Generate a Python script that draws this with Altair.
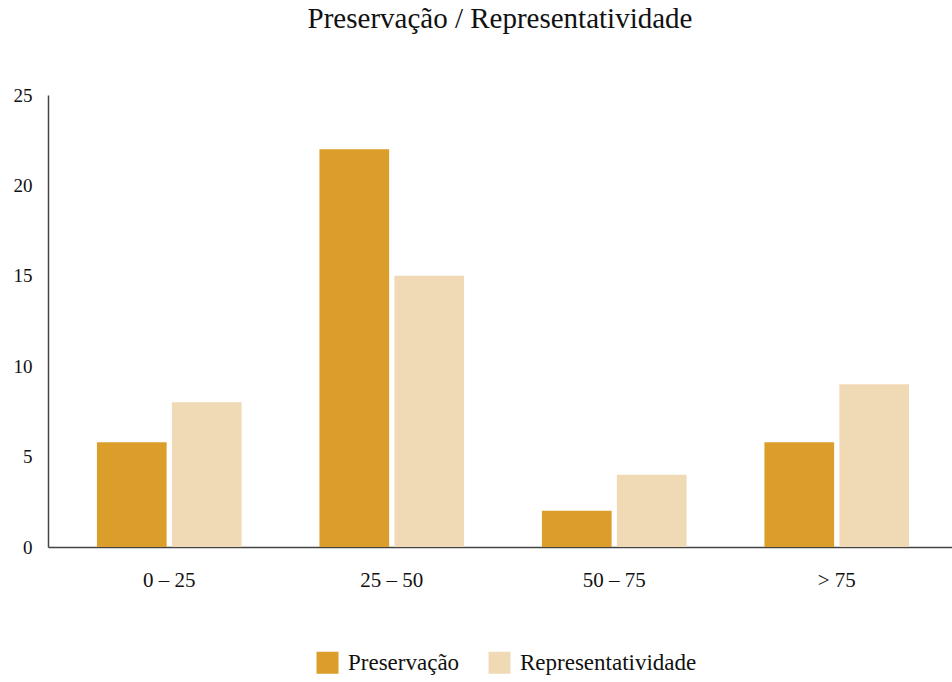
import altair as alt
import pandas as pd

categories = ["0 – 25", "25 – 50", "50 – 75", "> 75"]
series = ["Preservação", "Representatividade"]
preservacao = [5.8, 22, 2, 5.8]
representatividade = [8, 15, 4, 9]
colors = ["#DB9E2A", "#F0DAB5"]

rows = []
for c, p, r in zip(categories, preservacao, representatividade):
    rows.append({"faixa": c, "serie": series[0], "valor": p})
    rows.append({"faixa": c, "serie": series[1], "valor": r})
df = pd.DataFrame(rows)

FONT = "Liberation Serif"

chart = alt.Chart(df).mark_bar().encode(
    x=alt.X("faixa:N", sort=categories, title=None,
            scale=alt.Scale(paddingInner=0.35, paddingOuter=0.22, range=[0, 910]),
            axis=alt.Axis(labelAngle=0, labelFontSize=21, labelPadding=22,
                          ticks=False, domainColor="#444", domainWidth=1.5,
                          labelColor="#111", labelFont=FONT)),
    xOffset=alt.XOffset("serie:N", sort=series,
                        scale=alt.Scale(paddingInner=0.07, paddingOuter=0)),
    y=alt.Y("valor:Q", title=None,
            scale=alt.Scale(domain=[0, 25], nice=False),
            axis=alt.Axis(values=[0, 5, 10, 15, 20, 25], grid=False, ticks=False,
                          labelFontSize=19, labelPadding=16, domainColor="#444",
                          domainWidth=1.5, labelColor="#111", labelFont=FONT)),
    color=alt.Color("serie:N", sort=series, title=None,
                    scale=alt.Scale(domain=series, range=colors),
                    legend=alt.Legend(orient="none", direction="horizontal",
                                      legendX=268, legendY=556,
                                      symbolType="square", symbolSize=484,
                                      symbolStrokeWidth=0, labelFontSize=23,
                                      labelFont=FONT, labelColor="#111",
                                      columnPadding=28, labelOffset=9,
                                      labelLimit=300)),
).properties(
    width=904,
    height=452,
    title=alt.TitleParams("Preservação / Representatividade", fontSize=29,
                          font=FONT, fontWeight="normal", color="#111",
                          offset=52, anchor="middle"),
    autosize=alt.AutoSizeParams(type="none"),
    padding={"left": 48, "top": 95, "right": 0, "bottom": 135},
).configure_view(stroke=None)

chart.save("out.html", embed_options={"renderer": "svg", "actions": False})
